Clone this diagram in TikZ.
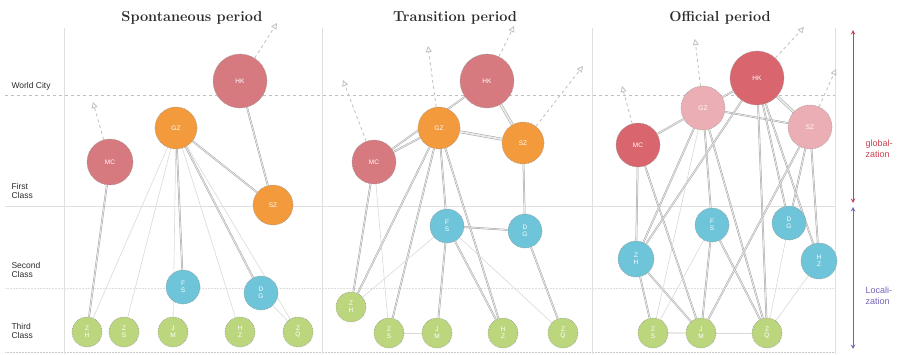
\documentclass[tikz,border=0pt]{standalone}
\usepackage{fontspec}
\setsansfont{Liberation Sans}
\usepackage{tikz}
\usetikzlibrary{arrows.meta,backgrounds}
\definecolor{ink}     {HTML}{2B2B2B}
\definecolor{rose}    {HTML}{D67A80}
\definecolor{deeprose}{HTML}{D9666E}
\definecolor{blush}   {HTML}{EBAEB4}
\definecolor{mandarin}{HTML}{F39A3C}
\definecolor{sky}     {HTML}{6EC4D8}
\definecolor{lime}    {HTML}{BCD67E}
\definecolor{globred} {HTML}{C8404F}
\definecolor{locpurp} {HTML}{7562B8}
\tikzset{
  >=stealth,
  % --- nodes
  city/.style  = {circle, draw=ink!50, densely dotted, line width=0.6pt, text=white,
                  font=\fontsize{6.5}{6.5}\sffamily, inner sep=0pt, align=center},
  world/.style = {city, fill=rose, minimum size=54pt},
  first/.style = {city, fill=mandarin, minimum size=42pt},
  pale/.style  = {city, fill=blush, minimum size=44pt},
  second/.style= {city, fill=sky, minimum size=34pt},
  third/.style = {city, fill=lime, minimum size=30pt},
  title/.style = {font=\fontsize{14.5}{16}\selectfont\bfseries, text=ink},
  side/.style  = {font=\fontsize{8.5}{9.5}\sffamily, text=ink, anchor=west, align=left},
  % --- edges
  e/.style     = {draw=ink!42, double=white!90!ink, double distance=0.8pt, line width=0.5pt},
  ethick/.style= {e, double distance=1.8pt},
  efaint/.style= {draw=ink!18, line width=0.6pt},
  outlink/.style= {dashed, draw=ink!30, line width=0.8pt, -{Triangle[open,length=6pt,width=6pt]}},
  grid/.style  = {draw=ink!15, line width=0.5pt},
}
\begin{document}
\begin{tikzpicture}[x=1pt,y=-1pt]
  \useasboundingbox (0,0) rectangle (901,354);
  % titles and class labels
  \node[title] (ti1) at (192,18) {Spontaneous period};
  \node[title] (ti2) at (455,18) {Transition period};
  \node[title] (ti3) at (720,18) {Official period};
  \node[side] (lw) at (8,86) {World City};
  \node[side] (lf) at (8,191) {First\\Class};
  \node[side] (ls) at (8,270) {Second\\Class};
  \node[side] (lt) at (8,331) {Third\\Class};

  % --- spontaneous period
  \node[world]  (sHK) at (240,81)  {HK};
  \node[first]  (sGZ) at (176,128) {GZ};
  \node[world, minimum size=46pt] (sMC) at (110,162) {MC};
  \node[first, minimum size=40pt] (sSZ) at (273,205) {SZ};
  \node[second] (sFS) at (183,287) {F\\S};
  \node[second] (sDG) at (261,293) {D\\G};
  \node[third]  (sZH) at (87,332)  {Z\\H};
  \node[third]  (sZS) at (124,332) {Z\\S};
  \node[third]  (sJM) at (173,332) {J\\M};
  \node[third]  (sHZ) at (240,332) {H\\Z};
  \node[third]  (sZQ) at (298,332) {Z\\Q};

  % --- transition period
  \node[world]  (tHK) at (487,81)  {HK};
  \node[first]  (tGZ) at (439,128) {GZ};
  \node[first]  (tSZ) at (523,143) {SZ};
  \node[world, minimum size=44pt] (tMC) at (374,162) {MC};
  \node[second] (tFS) at (447,226) {F\\S};
  \node[second] (tDG) at (525,231) {D\\G};
  \node[third]  (tZH) at (351,307) {Z\\H};
  \node[third]  (tZS) at (389,333) {Z\\S};
  \node[third]  (tJM) at (437,333) {J\\M};
  \node[third]  (tHZ) at (503,333) {H\\Z};
  \node[third]  (tZQ) at (563,333) {Z\\Q};

  % --- official period
  \node[world, fill=deeprose] (oHK) at (757,78) {HK};
  \node[pale]   (oGZ) at (703,108) {GZ};
  \node[pale]   (oSZ) at (810,127) {SZ};
  \node[world, fill=deeprose, minimum size=44pt] (oMC) at (638,145) {MC};
  \node[second] (oFS) at (712,225) {F\\S};
  \node[second] (oDG) at (789,223) {D\\G};
  \node[second, minimum size=36pt] (oZH) at (636,259) {Z\\H};
  \node[second, minimum size=36pt] (oHZ) at (819,261) {H\\Z};
  \node[third]  (oZS) at (653,333) {Z\\S};
  \node[third]  (oJM) at (701,333) {J\\M};
  \node[third]  (oZQ) at (767,333) {Z\\Q};

  % outward links
  \coordinate (sHKx) at (277,23);  \coordinate (sMCx) at (93,102);
  \coordinate (tMCx) at (343,80);  \coordinate (tGZx) at (428,46);
  \coordinate (tHKx) at (514,26);  \coordinate (tSZx) at (583,66);
  \coordinate (oMCx) at (622,86);  \coordinate (oGZx) at (695,39);
  \coordinate (oHKx) at (804,27);  \coordinate (oSZx) at (836,69);
  \draw[outlink] (sHK) -- (sHKx);  \draw[outlink] (sMC) -- (sMCx);
  \draw[outlink] (tMC) -- (tMCx);  \draw[outlink] (tGZ) -- (tGZx);
  \draw[outlink] (tHK) -- (tHKx);  \draw[outlink] (tSZ) -- (tSZx);
  \draw[outlink] (oMC) -- (oMCx);  \draw[outlink] (oGZ) -- (oGZx);
  \draw[outlink] (oHK) -- (oHKx);  \draw[outlink] (oSZ) -- (oSZx);

  % globalization / localization
  \coordinate (gtop) at (853,30);  \coordinate (gbot) at (853,203);
  \coordinate (ltop) at (853,207); \coordinate (lbot) at (853,349);
  \draw[<->, globred, line width=1pt] (gtop) -- (gbot);
  \draw[<->, locpurp, line width=1pt] (ltop) -- (lbot);
  \node[side, text=globred, font=\fontsize{9}{10.5}\sffamily] (gl) at (862,149) {global-\\zation};
  \node[side, text=locpurp, font=\fontsize{9}{10.5}\sffamily] (lo) at (862,296) {Locali-\\zation};

  \begin{pgfonlayer}{background}
    % frame
    \draw[grid, dashed, draw=ink!30] (5,95) -- (835,95);
    \draw[grid] (5,206) -- (835,206);
    \draw[grid, densely dotted] (5,288) -- (835,288);
    \draw[grid, densely dotted, draw=ink!25] (5,352) -- (835,352);
    \foreach \x in {64,322,592,835} \draw[grid] (\x,28) -- (\x,354);

    % spontaneous links
    \draw[e] (sHK) -- (sSZ);  \draw[e] (sGZ) -- (sSZ);
    \draw[e] (sGZ) -- (sFS);  \draw[e] (sGZ) -- (sDG);
    \draw[e] (sMC) -- (sZH);
    \foreach \b in {sZH,sZS,sJM,sHZ,sZQ} \draw[efaint] (sGZ) -- (\b);
    \draw[efaint] (sDG) -- (sZQ);

    % transition links
    \draw[e] (tMC) -- (tHK);  \draw[e] (tMC) -- (tGZ);
    \draw[ethick] (tGZ) -- (tSZ);  \draw[ethick] (tHK) -- (tSZ);
    \draw[e] (tSZ) -- (tDG);  \draw[e] (tFS) -- (tDG);
    \draw[e] (tGZ) -- (tFS);  \draw[e] (tGZ) -- (tZH);
    \draw[e] (tMC) -- (tZH);  \draw[e] (tGZ) -- (tZS);
    \draw[e] (tGZ) -- (tHZ);  \draw[e] (tFS) -- (tHZ);
    \draw[e] (tFS) -- (tJM);  \draw[e] (tDG) -- (tZQ);
    \draw[efaint] (tZH) -- (tFS);  \draw[efaint] (tZS) -- (tJM);
    \draw[efaint] (tFS) -- (tZQ);  \draw[efaint] (tMC) -- (tZS);

    % official links
    \draw[e] (oMC) -- (oGZ);  \draw[e] (oGZ) -- (oHK);
    \draw[ethick] (oHK) -- (oSZ);  \draw[e] (oGZ) -- (oSZ);
    \draw[e] (oMC) -- (oZH);  \draw[e] (oMC) -- (oJM);
    \draw[e] (oGZ) -- (oZH);  \draw[e] (oGZ) -- (oFS);
    \draw[e] (oGZ) -- (oZQ);  \draw[e] (oHK) -- (oDG);
    \draw[e] (oHK) -- (oHZ);  \draw[e] (oSZ) -- (oDG);
    \draw[e] (oSZ) -- (oHZ);  \draw[e] (oHK) -- (oZQ);
    \draw[e] (oZH) -- (oZS);  \draw[e] (oZH) -- (oJM);
    \draw[ethick] (oZS) -- (oJM);  \draw[e] (oFS) -- (oJM);
    \draw[e] (oFS) -- (oZQ);  \draw[e] (oHK) -- (oZH);
    \draw[e] (oSZ) -- (oJM);
    \draw[efaint] (oJM) -- (oZQ);  \draw[efaint] (oDG) -- (oZQ);
    \draw[efaint] (oHZ) -- (oZQ);  \draw[efaint] (oFS) -- (oZS);
    \draw[efaint] (oGZ) -- (oZS);
  \end{pgfonlayer}
\end{tikzpicture}
\end{document}
